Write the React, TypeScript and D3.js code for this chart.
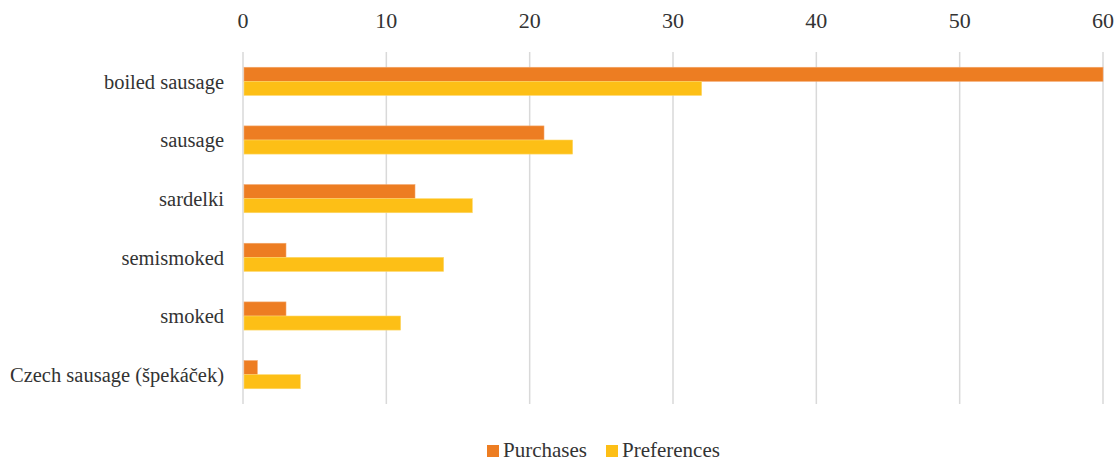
import React from "react";
import * as d3 from "d3";

const categories = ["boiled sausage", "sausage", "sardelki", "semismoked", "smoked", "Czech sausage (špekáček)"];
const purchases = [60, 21, 12, 3, 3, 1];
const preferences = [32, 23, 16, 14, 11, 4];
const tickValues = [0, 10, 20, 30, 40, 50, 60];
const seriesNames = ["Purchases", "Preferences"];
const colors = ["#ED7D22", "#FDBF16"];
const strokes = ["#F3A66A", "#FDD86A"];

const W = 1119, H = 461;
const FONT = "'Liberation Serif', 'DejaVu Serif', serif";

export default function App() {
  const x = d3.scaleLinear().domain([0, 60]).range([243, 1103]);
  const y = d3.scaleBand<string>().domain(categories).range([52, 404]).paddingInner(0.52).paddingOuter(0.26);
  const bw = y.bandwidth() / 2;
  const series = [purchases, preferences];
  return (
    <svg width={W} height={H} style={{ position: "absolute", left: 0, top: 0, background: "#fff" }} fontFamily={FONT}>
      {tickValues.map((t) => (
        <g key={t}>
          <line x1={x(t)} x2={x(t)} y1={52} y2={404} stroke="#D9D9D9" strokeWidth={1.5} />
          <text x={x(t)} y={28} textAnchor="middle" fontSize={22} fill="#333">{t}</text>
        </g>
      ))}
      {categories.map((c, i) => (
        <g key={c}>
          {series.map((s, j) => (
            <rect key={j} x={x(0) + 1} y={(y(c) as number) + j * bw} width={x(s[i]) - x(0) - 1} height={bw}
              fill={colors[j]} stroke={strokes[j]} strokeWidth={0.6} />
          ))}
          <text x={224} y={(y(c) as number) + bw} dy="0.35em" textAnchor="end" fontSize={20.5} fill="#333">{c}</text>
        </g>
      ))}
      <g>
        <rect x={487} y={445} width={12} height={12} fill={colors[0]} />
        <text x={503} y={457} fontSize={21} fill="#333">{seriesNames[0]}</text>
        <rect x={606} y={445} width={12} height={12} fill={colors[1]} />
        <text x={622} y={457} fontSize={21} fill="#333">{seriesNames[1]}</text>
      </g>
    </svg>
  );
}
